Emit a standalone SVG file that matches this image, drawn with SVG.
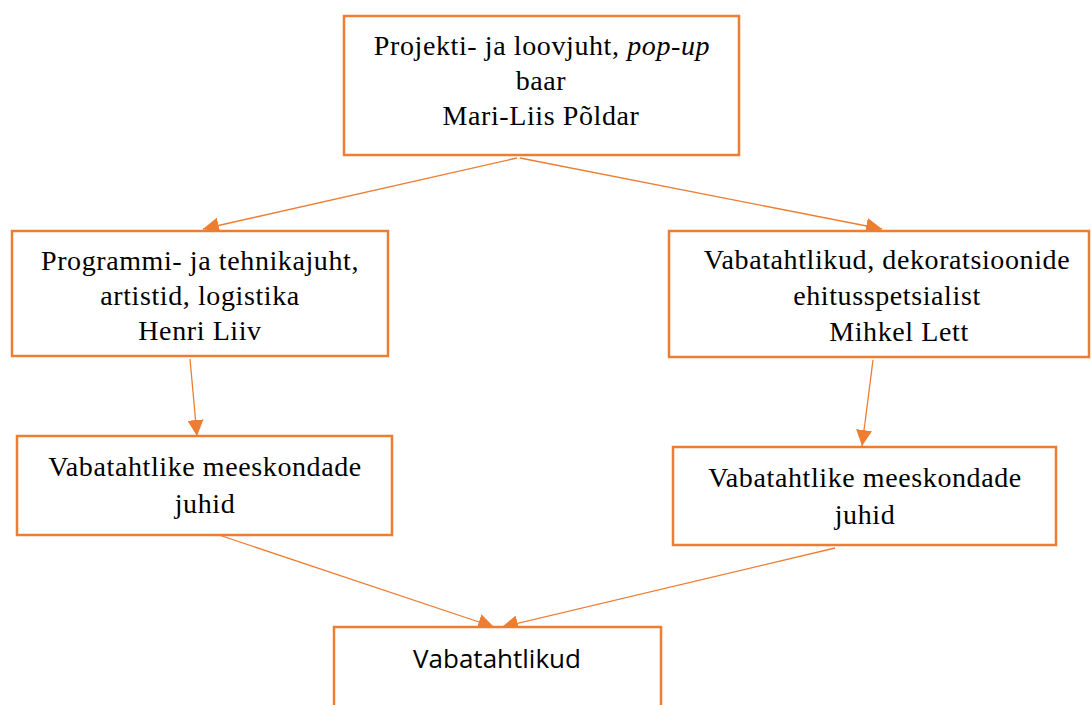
<svg xmlns="http://www.w3.org/2000/svg" width="1091" height="705" viewBox="0 0 1091 705">
<style>
.box{fill:#fff;stroke:#ED7D31;stroke-width:2.5}
.t{font-family:"Liberation Serif","Times New Roman",serif;font-size:28px;letter-spacing:0.6px;fill:#000;text-anchor:middle}
.s{font-family:"Open Sans","Noto Sans",sans-serif;font-size:26px;fill:#000;text-anchor:middle}
.c{stroke:#ED7D31;stroke-width:1.3;fill:none;marker-end:url(#ah)}
</style>
<defs>
<marker id="ah" viewBox="0 0 10 10" refX="10" refY="5" markerWidth="16" markerHeight="16" markerUnits="userSpaceOnUse" orient="auto">
<path d="M0,0 L10,5 L0,10 z" fill="#ED7D31"/>
</marker>
</defs>
<rect width="1091" height="705" fill="#fff"/>
<g id="connectors">
<line class="c" x1="517" y1="158" x2="203" y2="229"/>
<line class="c" x1="520" y1="158" x2="882" y2="229"/>
<line class="c" x1="190" y1="359" x2="197" y2="436"/>
<line class="c" x1="873" y1="360" x2="862" y2="446"/>
<line class="c" x1="207" y1="531" x2="494" y2="627"/>
<line class="c" x1="835" y1="548" x2="502" y2="627"/>
</g>
<g id="n1">
<rect class="box" x="344" y="16" width="395" height="139"/>
<text class="t" x="542" y="55">Projekti- ja loovjuht, <tspan font-style="italic">pop-up</tspan></text>
<text class="t" x="541" y="90">baar</text>
<text class="t" x="541" y="125">Mari-Liis Põldar</text>
</g>
<g id="n2">
<rect class="box" x="12" y="231" width="376" height="125"/>
<text class="t" x="200" y="270">Programmi- ja tehnikajuht,</text>
<text class="t" x="200" y="305">artistid, logistika</text>
<text class="t" x="200" y="340">Henri Liiv</text>
</g>
<g id="n3">
<rect class="box" x="669" y="231" width="420" height="126"/>
<text class="t" x="887" y="269">Vabatahtlikud, dekoratsioonide</text>
<text class="t" x="887" y="305">ehitusspetsialist</text>
<text class="t" x="899" y="341">Mihkel Lett</text>
</g>
<g id="n4">
<rect class="box" x="17" y="436" width="375" height="99"/>
<text class="t" x="205" y="476">Vabatahtlike meeskondade</text>
<text class="t" x="205" y="513">juhid</text>
</g>
<g id="n5">
<rect class="box" x="673" y="447" width="383" height="98"/>
<text class="t" x="865" y="487">Vabatahtlike meeskondade</text>
<text class="t" x="865" y="524">juhid</text>
</g>
<g id="n6">
<rect class="box" x="334" y="627" width="327" height="100"/>
<text class="s" x="497" y="668">Vabatahtlikud</text>
</g>
</svg>
